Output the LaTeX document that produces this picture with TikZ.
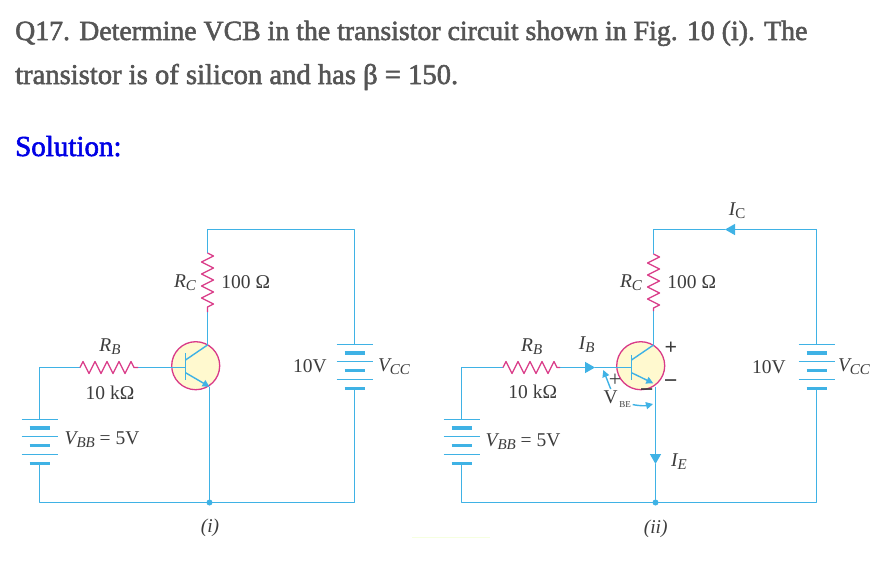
\documentclass[tikz,border=0pt]{standalone}
\usepackage{fontspec}
\setmainfont{Liberation Serif}
\newfontfamily\headfont[FakeBold=2]{Liberation Serif}
\usetikzlibrary{arrows.meta,decorations.pathmorphing}
\definecolor{wirecol}{HTML}{3FB2E5}
\definecolor{rescol}{HTML}{D93A88}
\definecolor{bulbcol}{HTML}{FFF9CF}
\definecolor{inkcol}{HTML}{3C3C3C}
\definecolor{headcol}{HTML}{555555}
\newcommand{\sublab}[2]{{\itshape #1\raisebox{-3pt}{\fontsize{15}{15}\selectfont #2}}}
\tikzset{
	wire/.style={draw=wirecol,line width=1.4pt},
	res/.style={draw=rescol,line width=1.3pt,decorate,decoration={zigzag,segment length=12pt,amplitude=6pt}},
	bulb/.style={circle,draw=rescol,fill=bulbcol,line width=1.3pt,minimum size=48pt,inner sep=0pt},
	lab/.style={text=inkcol,font=\fontsize{19.5}{21}\selectfont,inner sep=0pt},
	head/.style={anchor=base west,inner sep=0pt,text=headcol,font=\headfont\fontsize{27.8}{30}\selectfont},
	flow/.style={-{Stealth[inset=0pt,length=10pt,width=11pt]}},
	tiny/.style={-{Stealth[inset=0pt,length=7pt,width=7pt]}},
	battery/.pic={
		\foreach \p in {0,17,35} \draw[wire] (-18,\p) -- (18,\p);
		\foreach \p in {8.5,26,44} \draw[wirecol,line width=3.6pt] (-10,\p) -- (10,\p);
		\coordinate (-top) at (0,0);
		\coordinate (-bot) at (0,44);
	}
}
\begin{document}
\begin{tikzpicture}[line join=round,x=1pt,y=-1pt,>=stealth]
	\useasboundingbox (0,0) rectangle (893,562);
	\node[head] (qa) at (15,40) {Q17. Determine VCB in the transistor circuit shown in Fig. 10 (i). The};
	\node[head,font=\headfont\fontsize{28.6}{30}\selectfont] (qb) at (15,84) {transistor is of silicon and has β = 150.};
	\node[head,text=blue!90!black,font=\headfont\fontsize{29}{30}\selectfont] (sol) at (15,156) {Solution:};
	% circuit (i)
	\coordinate (TLa) at (207.5,229.5);
	\coordinate (TRa) at (354.5,229.5);
	\coordinate (RCta) at (207.5,253);
	\coordinate (RCba) at (207.5,312);
	\coordinate (Ca) at (207.5,345);
	\coordinate (Ea) at (209.5,386.7);
	\coordinate (Ga) at (209.5,502.5);
	\coordinate (BRa) at (354.5,502.5);
	\coordinate (BLa) at (39.5,502.5);
	\coordinate (LTa) at (39.5,367.5);
	\coordinate (RBla) at (80,367.5);
	\coordinate (RBra) at (138,367.5);
	\coordinate (Ba) at (185.5,367.5);
	\node[bulb] (Qa) at (195.7,365.7) {};
	\pic (vbba) at (39.5,419.5) {battery};
	\pic (vcca) at (354.5,344.5) {battery};
	\draw[wire] (RCta) -- (TLa) -- (TRa) -- (vcca-top);
	\draw[wire] (RCba) -- (Ca);
	\draw[wire] (vcca-bot) -- (BRa) -- (BLa) -- (vbba-bot);
	\draw[wire] (vbba-top) -- (LTa) -- (RBla);
	\draw[wire] (RBra) -- (Ba);
	\draw[wire] (Ea) -- (Ga);
	\draw[res] (RCta) -- (RCba);
	\draw[res] (RBla) -- (RBra);
	\draw[wire] (185.5,353) -- (185.5,380);
	\draw[wire] (185.5,360) -- (Ca);
	\draw[wire,tiny] (185.5,372.7) -- (Ea);
	\fill[wirecol] (Ga) circle (3pt);
	\node[lab] (rca) at (185,283) {\sublab{R}{C}};
	\node[lab] (rcva) at (245.7,282) {100 Ω};
	\node[lab] (rba) at (110,347) {\sublab{R}{B}};
	\node[lab] (rbva) at (110,393) {10 kΩ};
	\node[lab] (vbbla) at (102,440) {\sublab{V}{BB} = 5V};
	\node[lab] (tena) at (310,366) {10V};
	\node[lab] (vccla) at (394,367) {\sublab{V}{CC}};
	\node[lab] (capa) at (210,528) {\textit{(i)}};
	% circuit (ii)
	\coordinate (TLb) at (653.5,229.5);
	\coordinate (TRb) at (816.5,229.5);
	\coordinate (ICb) at (725,229.5);
	\coordinate (RCtb) at (653.5,254);
	\coordinate (RCbb) at (653.5,311);
	\coordinate (Cb) at (653.5,345);
	\coordinate (Eb) at (655.5,386.7);
	\coordinate (IEb) at (655.5,464);
	\coordinate (Gb) at (655.5,502.5);
	\coordinate (BRb) at (816.5,502.5);
	\coordinate (BLb) at (461.5,502.5);
	\coordinate (LTb) at (461.5,367.5);
	\coordinate (RBlb) at (503,367.5);
	\coordinate (RBrb) at (560,367.5);
	\coordinate (IBb) at (595,367.5);
	\coordinate (Bb) at (631.5,367.5);
	\node[bulb] (Qb) at (640.7,365.7) {};
	\pic (vbbb) at (461.5,419.5) {battery};
	\pic (vccb) at (816.5,344.5) {battery};
	\draw[wire,flow] (TRb) -- (ICb);
	\draw[wire] (ICb) -- (TLb) -- (RCtb);
	\draw[wire] (TRb) -- (vccb-top);
	\draw[wire] (RCbb) -- (Cb);
	\draw[wire] (vccb-bot) -- (BRb) -- (BLb) -- (vbbb-bot);
	\draw[wire] (vbbb-top) -- (LTb) -- (RBlb);
	\draw[wire,flow] (RBrb) -- (IBb);
	\draw[wire] (IBb) -- (Bb);
	\draw[wire,flow] (Eb) -- (IEb);
	\draw[wire] (IEb) -- (Gb);
	\draw[res] (RCtb) -- (RCbb);
	\draw[res] (RBlb) -- (RBrb);
	\draw[wire] (631.5,355) -- (631.5,380);
	\draw[wire] (631.5,360) -- (Cb);
	\draw[wire,tiny] (631.5,372.7) -- (653.3,383.3);
	\fill[wirecol] (Gb) circle (3pt);
	\draw[wire,tiny] (610.7,389) -- (603.3,370);
	\draw[wire,tiny] (632.7,404.6) to[bend right=12] (653,404);
	\node[lab] (rcb) at (631,283) {\sublab{R}{C}};
	\node[lab] (rcvb) at (691.7,282) {100 Ω};
	\node[lab] (rbb) at (531.7,347) {\sublab{R}{B}};
	\node[lab] (ibb) at (586.7,345) {\sublab{I}{B}};
	\node[lab] (icb) at (737,211) {\sublab{I}{\upshape C}};
	\node[lab] (ieb) at (679,462) {\sublab{I}{E}};
	\node[lab,font=\fontsize{22}{22}\bfseries] (plusb) at (671,348) {+};
	\node[lab,font=\fontsize{24}{24}\bfseries] (minusb) at (670.7,384) {−};
	\node[lab,font=\fontsize{22}{22}\selectfont] (plusq) at (615,380) {+};
	\node[lab,font=\fontsize{24}{24}\bfseries] (minusq) at (646.7,392.7) {−};
	\node[lab] (vbe) at (610.7,397) {V};
	\node[lab,font=\fontsize{9}{9}\selectfont] (vbes) at (625,404.5) {BE};
	\node[lab] (rbvb) at (532.7,392) {10 kΩ};
	\node[lab] (vbblb) at (523,441.7) {\sublab{V}{BB} = 5V};
	\node[lab] (tenb) at (769,366.7) {10V};
	\node[lab] (vcclb) at (854,367) {\sublab{V}{CC}};
	\node[lab] (capb) at (655.7,529) {\textit{(ii)}};
	\draw[green!30!yellow!12,line width=1.5pt] (412,537.5) -- (490,537.5);
\end{tikzpicture}
\end{document}
